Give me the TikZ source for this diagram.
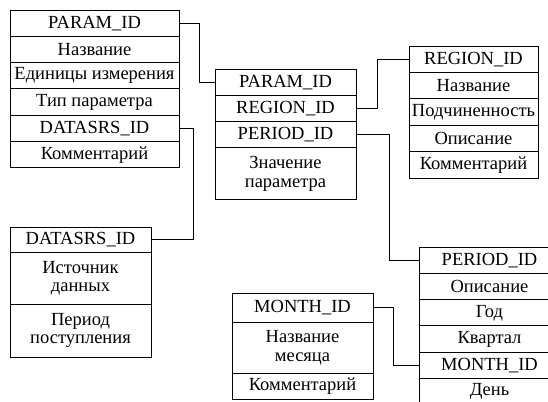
\documentclass[tikz,border=0pt]{standalone}
\usepackage{fontspec}
\setmainfont{Liberation Serif}
\newfontfamily\cellfont{Liberation Serif}
\usetikzlibrary{positioning}

\begin{document}
\begin{tikzpicture}[x=1pt, y=-1pt,
    cell/.style={rectangle, draw=black, line width=0.9pt, inner sep=0pt, outer sep=0pt,
                 minimum width=141pt, minimum height=26.3pt, align=center,
                 font=\cellfont\fontsize{18.5}{18.5}\selectfont},
    link/.style={line width=0.9pt, black}
  ]
    \useasboundingbox (0,0) rectangle (548,401);
    \clip (0,0) rectangle (548,401);

    % Parameters table
    \node[cell, minimum width=169pt, anchor=north west] (par1) at (10,10) {PARAM\_ID};
    \node[cell, minimum width=169pt, below=0pt of par1] (par2) {Название};
    \node[cell, minimum width=169pt, below=0pt of par2] (par3) {Единицы измерения};
    \node[cell, minimum width=169pt, below=0pt of par3] (par4) {Тип параметра};
    \node[cell, minimum width=169pt, below=0pt of par4] (par5) {DATASRS\_ID};
    \node[cell, minimum width=169pt, below=0pt of par5] (par6) {Комментарий};

    % Values table
    \node[cell, anchor=north west] (val1) at (215,69) {PARAM\_ID};
    \node[cell, below=0pt of val1] (val2) {REGION\_ID};
    \node[cell, below=0pt of val2] (val3) {PERIOD\_ID};
    \node[cell, minimum height=52pt, below=0pt of val3] (val4) {Значение\\параметра};

    % Regions table
    \node[cell, minimum width=129pt, minimum height=26.4pt, anchor=north west] (reg1) at (409,46) {REGION\_ID};
    \node[cell, minimum width=129pt, minimum height=26.4pt, below=0pt of reg1] (reg2) {Название};
    \node[cell, minimum width=129pt, minimum height=26.4pt, below=0pt of reg2] (reg3) {Подчиненность};
    \node[cell, minimum width=129pt, minimum height=26.4pt, below=0pt of reg3] (reg4) {Описание};
    \node[cell, minimum width=129pt, minimum height=26.4pt, below=0pt of reg4] (reg5) {Комментарий};

    % Data sources table
    \node[cell, minimum height=25pt, anchor=north west] (src1) at (10,227) {DATASRS\_ID};
    \node[cell, minimum height=52pt, below=0pt of src1] (src2) {Источник\\данных};
    \node[cell, minimum height=53pt, below=0pt of src2] (src3) {Период\\поступления};

    % Periods table
    \node[cell, anchor=north west] (per1) at (419,247) {PERIOD\_ID};
    \node[cell, below=0pt of per1] (per2) {Описание};
    \node[cell, below=0pt of per2] (per3) {Год};
    \node[cell, below=0pt of per3] (per4) {Квартал};
    \node[cell, below=0pt of per4] (per5) {MONTH\_ID};
    \node[cell, below=0pt of per5] (per6) {День};

    % Months table
    \node[cell, minimum height=29pt, anchor=north west] (mon1) at (232,293) {MONTH\_ID};
    \node[cell, minimum height=51pt, below=0pt of mon1] (mon2) {Название\\месяца};
    \node[cell, minimum height=26pt, below=0pt of mon2] (mon3) {Комментарий};

    % Key links
    \draw[link] (par1.east) -- ++(20,0) |- (val1.west);
    \draw[link] (par5.east) -- ++(14,0) |- (src1.east);
    \draw[link] (val2.east) -- ++(21,0) |- (reg1.west);
    \draw[link] (val3.east) -- ++(33,0) |- (per1.west);
    \draw[link] (mon1.east) -- ++(20,0) |- (per5.west);
  \end{tikzpicture}
\end{document}
